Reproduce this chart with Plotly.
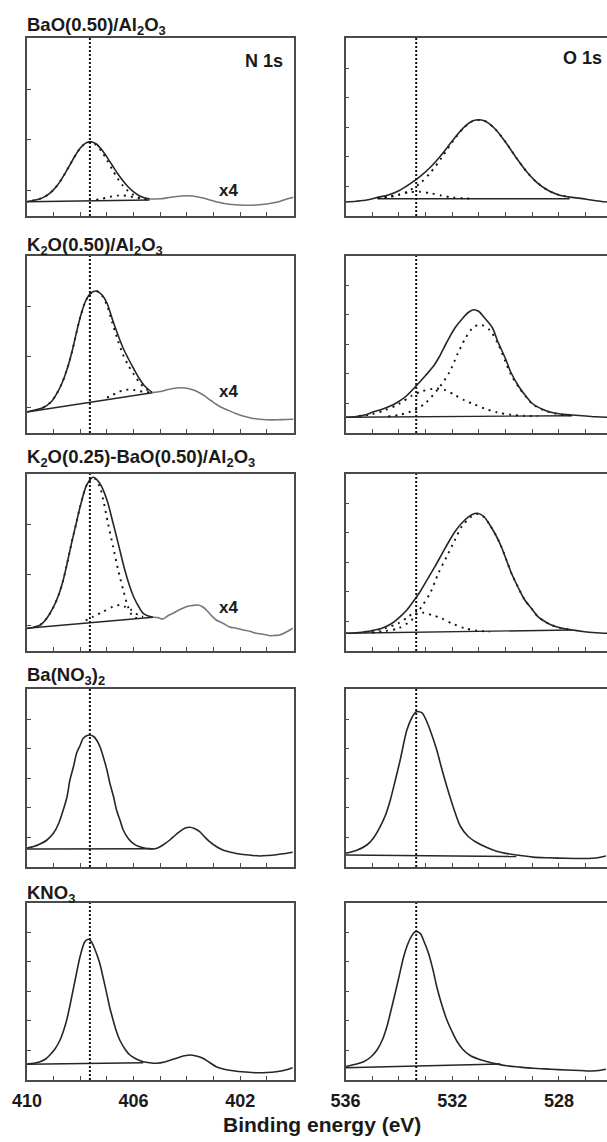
import plotly.graph_objects as go

# ---------------- data (binding energy in eV, intensity in arbitrary units) ----------------
REF_N1S = 407.64
REF_O1S = 533.35

# Row 1: BaO(0.50)/Al2O3
P1N_ENV_E = [410.0, 409.8, 409.6, 409.4, 409.2, 409.0, 408.8, 408.6, 408.4, 408.2, 408.0, 407.8, 407.6,
             407.4, 407.2, 407.0, 406.8, 406.6, 406.4, 406.2, 406.0, 405.8, 405.6, 405.4]
P1N_ENV_I = [14.4, 15.3, 16.5, 18.4, 21.6, 26.4, 32.9, 41.3, 50.7, 60.0, 67.9, 72.9, 74.1,
             72.0, 66.5, 58.9, 50.7, 42.5, 35.2, 29.0, 24.1, 20.5, 18.3, 17.1]
P1N_C1_E = [409.8, 409.6, 409.4, 409.2, 409.0, 408.8, 408.6, 408.4, 408.2, 408.0, 407.8, 407.6,
            407.4, 407.2, 407.0, 406.8, 406.6, 406.4, 406.2, 406.0, 405.8, 405.6, 405.4]
P1N_C1_I = [15.3, 16.5, 18.4, 21.6, 26.4, 32.9, 41.3, 50.7, 60.0, 67.9, 72.9, 74.1,
            71.0, 64.6, 55.9, 46.5, 37.6, 30.3, 24.8, 21.1, 18.6, 17.3, 16.7]
P1N_C2_E = [407.4, 407.2, 407.0, 406.8, 406.6, 406.4, 406.2, 406.0, 405.8, 405.6, 405.4]
P1N_C2_I = [16.2, 17.2, 18.4, 19.7, 20.4, 20.5, 19.9, 18.8, 17.7, 16.9, 16.4]
P1N_BG_E = [410.0, 405.4]
P1N_BG_I = [14.3, 16.0]
P1N_X4_E = [405.4, 405.0, 404.6, 404.2, 404.0, 403.8, 403.4, 403.0, 402.6, 402.2, 401.8, 401.4,
            401.0, 400.6, 400.3, 400.0]
P1N_X4_I = [17.0, 17.2, 18.8, 20.0, 20.3, 20.0, 18.0, 15.0, 12.5, 11.2, 10.8, 11.0,
            12.0, 14.0, 16.5, 18.7]

P1O_ENV_E = [536.0, 535.6, 535.2, 534.8, 534.4, 534.0, 533.6, 533.2, 532.8, 532.4, 532.0, 531.6, 531.2,
             530.8, 530.4, 530.0, 529.6, 529.2, 528.8, 528.4, 528.0, 527.6, 527.2, 526.8, 526.4, 526.2]
P1O_ENV_I = [14.0, 14.8, 16.0, 18.6, 20.9, 25.3, 31.9, 39.7, 49.3, 61.3, 75.0, 87.7, 95.4,
             95.3, 87.3, 73.8, 58.2, 43.9, 32.8, 25.5, 21.1, 18.9, 17.6, 16.0, 14.5, 14.0]
P1O_C1_E = [534.8, 534.4, 534.0, 533.6, 533.2, 532.8, 532.4, 532.0, 531.6, 531.2,
            530.8, 530.4, 530.0, 529.6, 529.2, 528.8, 528.4, 528.0, 527.6]
P1O_C1_I = [17.9, 18.9, 21.1, 25.5, 32.8, 43.9, 58.2, 73.8, 87.3, 95.3,
            95.3, 87.3, 73.8, 58.2, 43.9, 32.8, 25.5, 21.1, 18.9]
P1O_C2_E = [534.8, 534.4, 534.0, 533.6, 533.2, 532.8, 532.4, 532.0, 531.6, 531.2]
P1O_C2_I = [18.0, 19.3, 21.5, 23.7, 24.2, 22.7, 20.4, 18.5, 17.7, 17.4]
P1O_BG_E = [534.8, 527.6]
P1O_BG_I = [17.3, 17.3]

# Row 2: K2O(0.50)/Al2O3
P2N_ENV_E = [410.0, 409.7, 409.4, 409.1, 408.9, 408.7, 408.5, 408.3, 408.2, 408.0, 407.8, 407.6, 407.4,
             407.2, 407.0, 406.8, 406.6, 406.4, 406.2, 406.0, 405.8, 405.6, 405.4, 405.3]
P2N_ENV_I = [21.0, 23.0, 25.3, 31.0, 38.7, 49.0, 63.5, 82.5, 94.0, 116.0, 132.0, 140.0, 142.0,
             138.5, 130.0, 114.0, 99.0, 85.3, 74.5, 64.5, 55.0, 47.5, 42.5, 40.5]
P2N_C1_E = [409.4, 409.1, 408.9, 408.7, 408.5, 408.3, 408.2, 408.0, 407.8, 407.6, 407.4, 407.2,
            407.0, 406.8, 406.6, 406.4, 406.2, 406.0, 405.8, 405.6, 405.4]
P2N_C1_I = [25.3, 31.0, 38.7, 49.0, 63.5, 82.5, 94.0, 116.0, 132.0, 140.0, 142.0, 138.0,
            127.9, 110.2, 93.4, 78.5, 67.7, 58.9, 51.2, 45.4, 41.6]
P2N_C2_E = [407.0, 406.8, 406.6, 406.4, 406.2, 406.0, 405.8, 405.6, 405.4]
P2N_C2_I = [35.4, 37.9, 40.5, 42.6, 43.4, 43.0, 42.0, 41.1, 40.8]
P2N_BG_E = [410.0, 405.3]
P2N_BG_I = [21.0, 40.3]
P2N_X4_E = [405.3, 405.0, 404.7, 404.4, 404.2, 404.0, 403.7, 403.4, 403.1, 402.8, 402.5, 402.2,
            401.9, 401.6, 401.3, 401.0, 400.6, 400.3, 400.0]
P2N_X4_I = [40.3, 41.5, 43.5, 45.0, 45.3, 44.8, 42.5, 38.2, 32.5, 27.0, 23.3, 19.8,
            17.0, 15.0, 13.8, 13.2, 13.2, 13.5, 13.7]

P2O_ENV_E = [536.0, 535.6, 535.2, 535.0, 534.6, 534.2, 534.0, 533.7, 533.4, 533.0, 532.7, 532.5, 532.2,
             531.9, 531.6, 531.4, 531.2, 531.0, 530.8, 530.5, 530.3, 530.0, 529.8, 529.5, 529.2, 529.0,
             528.6, 528.3, 528.0, 527.5, 527.0, 526.6, 526.2]
P2O_ENV_I = [15.7, 16.5, 18.5, 20.7, 24.0, 28.5, 31.5, 37.5, 45.7, 57.5, 67.0, 75.5, 91.0,
             105.0, 115.0, 120.5, 123.3, 121.5, 115.5, 105.5, 92.0, 74.0, 60.5, 46.3, 35.5, 29.5,
             23.5, 20.7, 19.2, 18.0, 17.0, 16.2, 15.7]
P2O_C1_E = [534.4, 534.0, 533.4, 533.0, 532.5, 532.1, 531.8, 531.5, 531.2, 530.9, 530.6, 530.3,
            530.0, 529.8, 529.5, 529.2, 529.0, 528.6, 528.3, 528.0, 527.6]
P2O_C1_I = [16.5, 18.0, 23.0, 30.0, 45.0, 61.0, 79.0, 95.0, 106.0, 108.0, 103.0, 90.0,
            71.0, 58.5, 45.5, 35.0, 29.0, 23.0, 20.3, 18.8, 17.6]
P2O_C2_E = [535.5, 535.0, 534.5, 534.0, 533.5, 533.15, 532.65, 532.27, 531.9, 531.53, 531.2, 530.8,
            530.3, 529.8, 529.3, 528.8]
P2O_C2_I = [17.0, 19.0, 23.0, 29.0, 37.5, 41.5, 44.5, 43.0, 38.0, 32.5, 29.0, 24.5,
            20.5, 18.3, 17.2, 16.8]
P2O_BG_E = [536.0, 527.5]
P2O_BG_I = [15.7, 17.3]

# Row 3: K2O(0.25)-BaO(0.50)/Al2O3
P3N_ENV_E = [410.0, 409.8, 409.5, 409.25, 409.0, 408.8, 408.64, 408.5, 408.33, 408.15, 408.0, 407.76,
             407.52, 407.27, 407.0, 406.8, 406.64, 406.5, 406.33, 406.15, 406.0, 405.8, 405.64,
             405.45, 405.27]
P3N_ENV_I = [22.5, 23.5, 26.0, 33.0, 44.3, 57.0, 71.0, 87.0, 107.7, 128.0, 145.0, 166.0,
             173.7, 167.7, 151.0, 131.0, 114.3, 99.0, 81.0, 65.0, 54.3, 44.0, 37.7,
             35.0, 33.7]
P3N_C1_E = [409.5, 409.25, 409.0, 408.8, 408.64, 408.5, 408.33, 408.15, 408.0, 407.76, 407.52,
            407.27, 407.14, 406.96, 406.77, 406.58, 406.39, 406.21, 406.02, 405.8]
P3N_C1_I = [26.0, 33.0, 44.3, 57.0, 71.0, 87.0, 107.7, 128.0, 145.0, 166.0, 173.7,
            164.3, 151.0, 127.7, 104.3, 81.0, 61.0, 44.3, 34.3, 32.7]
P3N_C2_E = [407.8, 407.52, 407.14, 406.77, 406.52, 406.33, 406.08, 405.83, 405.64]
P3N_C2_I = [30.5, 34.3, 39.3, 44.3, 46.0, 44.3, 41.0, 36.0, 34.3]
P3N_BG_E = [410.0, 405.27]
P3N_BG_I = [22.7, 33.7]
P3N_X4_E = [405.27, 405.1, 404.9, 404.7, 404.52, 404.3, 404.02, 403.8, 403.58, 403.4, 403.27, 403.1,
            402.9, 402.65, 402.4, 402.15, 401.9, 401.65, 401.4, 401.15, 400.9, 400.7, 400.52,
            400.3, 400.03]
P3N_X4_I = [33.7, 33.5, 32.0, 35.5, 37.7, 41.0, 44.3, 45.5, 46.0, 44.0, 41.0, 36.0,
            31.0, 27.8, 24.0, 22.8, 21.0, 19.8, 17.7, 16.8, 15.3, 15.6, 16.0,
            18.5, 22.7]

P3O_ENV_E = [536.0, 535.6, 535.2, 534.9, 534.64, 534.3, 534.02, 533.7, 533.42, 533.2, 533.02, 532.65,
             532.27, 531.9, 531.53, 531.25, 531.05, 530.8, 530.59, 530.37, 530.16, 529.97, 529.78,
             529.5, 529.28, 529.0, 528.79, 528.5, 528.29, 528.0, 527.66, 527.04, 526.6, 526.2]
P3O_ENV_I = [17.7, 18.3, 19.5, 21.0, 22.7, 27.0, 32.7, 41.0, 51.0, 59.5, 67.7, 84.3,
             102.7, 119.3, 131.0, 136.5, 137.7, 134.0, 126.0, 116.0, 104.3, 91.0, 77.7,
             62.0, 51.0, 41.5, 34.3, 29.0, 26.0, 23.5, 21.7, 19.3, 18.3, 17.7]
P3O_C1_E = [535.0, 534.5, 534.02, 533.52, 533.15, 532.83, 532.52, 532.21, 531.9, 531.65, 531.3,
            531.05, 530.8, 530.59, 530.37, 530.16, 529.97, 529.78, 529.5, 529.28, 529.0, 528.79,
            528.5, 528.29, 528.0, 527.66]
P3O_C1_I = [18.5, 20.0, 22.7, 31.0, 44.3, 57.7, 77.7, 94.3, 111.0, 124.3, 134.0,
            137.0, 134.0, 126.0, 116.0, 104.3, 91.0, 77.7, 62.0, 51.0, 41.5, 34.3,
            29.0, 26.0, 23.5, 21.7]
P3O_C2_E = [535.3, 534.52, 534.02, 533.64, 533.39, 533.08, 532.77, 532.4, 532.03, 531.53, 531.05, 530.6]
P3O_C2_I = [19.0, 22.7, 27.7, 34.3, 39.3, 38.3, 36.0, 32.7, 27.7, 22.7, 20.3, 19.3]
P3O_BG_E = [536.0, 527.5]
P3O_BG_I = [17.7, 21.0]

# Row 4: Ba(NO3)2
P4N_ENV_E = [410.0, 409.75, 409.51, 409.25, 409.01, 408.82, 408.64, 408.5, 408.39, 408.25, 408.14,
             408.0, 407.89, 407.67, 407.5, 407.39, 407.25, 407.14, 407.0, 406.89, 406.75, 406.64,
             406.5, 406.39, 406.2, 406.02, 405.8, 405.64, 405.45, 405.27, 405.1, 404.9, 404.64,
             404.45, 404.27, 404.1, 403.9, 403.7, 403.52, 403.35, 403.15, 402.9, 402.65, 402.3,
             402.02, 401.6, 401.27, 400.95, 400.65, 400.3, 400.03]
P4N_ENV_I = [19.0, 20.5, 23.0, 27.0, 33.7, 43.0, 57.0, 70.0, 87.0, 101.0, 113.7,
             122.0, 128.7, 132.0, 130.5, 127.0, 119.5, 110.3, 97.0, 83.7, 70.0, 57.0,
             46.0, 37.0, 28.5, 23.7, 20.5, 19.3, 18.5, 18.0, 19.0, 22.0, 27.0,
             31.5, 35.3, 38.5, 39.7, 38.3, 35.3, 30.5, 25.3, 20.5, 17.0, 14.5,
             13.0, 11.8, 11.0, 11.5, 12.3, 13.5, 14.7]
P4N_BG_E = [410.0, 405.27]
P4N_BG_I = [18.0, 18.3]

P4O_ENV_E = [536.0, 535.6, 535.2, 534.95, 534.7, 534.5, 534.32, 534.15, 533.95, 533.7, 533.5, 533.35,
             533.14, 532.98, 532.83, 532.58, 532.4, 532.2, 531.95, 531.7, 531.4, 531.08, 530.7,
             530.34, 530.0, 529.6, 528.97, 528.4, 527.73, 527.2, 526.74, 526.5, 526.24]
P4O_ENV_I = [13.7, 16.5, 22.0, 29.0, 40.3, 52.0, 67.0, 85.0, 107.0, 137.0, 150.0, 155.3,
             154.3, 147.0, 137.0, 117.0, 99.0, 80.3, 59.0, 41.0, 30.5, 24.5, 19.5,
             15.8, 13.6, 12.0, 9.9, 9.2, 8.7, 8.5, 8.7, 9.5, 11.0]
P4O_BG_E = [536.0, 529.6]
P4O_BG_I = [12.0, 10.5]

# Row 5: KNO3
P5N_ENV_E = [410.0, 409.75, 409.51, 409.3, 409.14, 408.95, 408.76, 408.62, 408.51, 408.4, 408.27,
             408.14, 408.01, 407.83, 407.7, 407.6, 407.52, 407.4, 407.27, 407.14, 407.01, 406.9,
             406.77, 406.65, 406.52, 406.3, 406.14, 405.9, 405.64, 405.4, 405.14, 404.8, 404.52,
             404.2, 403.9, 403.65, 403.4, 403.15, 402.9, 402.6, 402.27, 401.8, 401.4, 401.0,
             400.65, 400.3, 400.03]
P5N_ENV_I = [16.0, 16.8, 18.3, 21.0, 25.0, 31.0, 40.0, 50.0, 60.0, 73.0, 90.0,
             107.0, 123.3, 138.3, 140.7, 139.0, 135.0, 127.0, 116.7, 102.0, 86.7, 73.0,
             60.0, 49.0, 40.0, 30.0, 25.0, 21.0, 18.3, 17.2, 16.7, 18.3, 20.7,
             23.5, 25.0, 24.0, 21.7, 17.5, 13.3, 10.8, 9.3, 8.0, 7.3, 7.5,
             8.3, 10.0, 12.3]
P5N_BG_E = [410.0, 405.64]
P5N_BG_I = [15.7, 17.3]

P5O_ENV_E = [536.0, 535.7, 535.32, 535.05, 534.82, 534.62, 534.45, 534.3, 534.14, 533.98, 533.82,
             533.7, 533.57, 533.39, 533.2, 533.05, 532.89, 532.72, 532.58, 532.4, 532.2, 532.0,
             531.83, 531.6, 531.33, 531.0, 530.71, 530.3, 529.96, 529.5, 528.97, 528.3, 527.73,
             527.2, 526.74, 526.5, 526.24]
P5O_ENV_I = [13.3, 15.3, 18.3, 23.0, 30.0, 40.0, 53.3, 69.0, 86.7, 105.0, 123.3,
             133.5, 141.7, 148.3, 146.7, 138.0, 126.7, 110.0, 93.3, 76.0, 60.0, 48.0,
             39.0, 30.5, 24.5, 20.8, 18.5, 15.9, 14.3, 13.0, 11.7, 10.8, 10.0,
             9.5, 9.0, 9.5, 10.7]
P5O_BG_E = [536.0, 530.2]
P5O_BG_I = [12.3, 16.0]

SAMPLES = ["BaO(0.50)/Al<sub>2</sub>O<sub>3</sub>",
           "K<sub>2</sub>O(0.50)/Al<sub>2</sub>O<sub>3</sub>",
           "K<sub>2</sub>O(0.25)-BaO(0.50)/Al<sub>2</sub>O<sub>3</sub>",
           "Ba(NO<sub>3</sub>)<sub>2</sub>",
           "KNO<sub>3</sub>"]
N1S_TICKS = [410, 406, 402]
O1S_TICKS = [536, 532, 528]

# ---------------- layout constants ----------------
W, H = 607, 1142
ROWS = [(38, 216), (256, 433), (474, 651), (689, 867), (903, 1080)]
COLS = [(27, 293.5), (345.5, 607)]
XRANGES = [[410, 400], [536, 526.2]]
TITLE_Y = [26, 246, 458, 676, 894]
FONT = "Liberation Sans, Arial, Helvetica, sans-serif"
LINE_C = "#262626"
FRAME_C = "#4a4a4a"

panels = [
    dict(env=(P1N_ENV_E, P1N_ENV_I), bg=(P1N_BG_E, P1N_BG_I), comps=[(P1N_C1_E, P1N_C1_I), (P1N_C2_E, P1N_C2_I)], x4=(P1N_X4_E, P1N_X4_I)),
    dict(env=(P1O_ENV_E, P1O_ENV_I), bg=(P1O_BG_E, P1O_BG_I), comps=[(P1O_C1_E, P1O_C1_I), (P1O_C2_E, P1O_C2_I)], x4=None),
    dict(env=(P2N_ENV_E, P2N_ENV_I), bg=(P2N_BG_E, P2N_BG_I), comps=[(P2N_C1_E, P2N_C1_I), (P2N_C2_E, P2N_C2_I)], x4=(P2N_X4_E, P2N_X4_I)),
    dict(env=(P2O_ENV_E, P2O_ENV_I), bg=(P2O_BG_E, P2O_BG_I), comps=[(P2O_C1_E, P2O_C1_I), (P2O_C2_E, P2O_C2_I)], x4=None),
    dict(env=(P3N_ENV_E, P3N_ENV_I), bg=(P3N_BG_E, P3N_BG_I), comps=[(P3N_C1_E, P3N_C1_I), (P3N_C2_E, P3N_C2_I)], x4=(P3N_X4_E, P3N_X4_I)),
    dict(env=(P3O_ENV_E, P3O_ENV_I), bg=(P3O_BG_E, P3O_BG_I), comps=[(P3O_C1_E, P3O_C1_I), (P3O_C2_E, P3O_C2_I)], x4=None),
    dict(env=(P4N_ENV_E, P4N_ENV_I), bg=(P4N_BG_E, P4N_BG_I), comps=[], x4=None),
    dict(env=(P4O_ENV_E, P4O_ENV_I), bg=(P4O_BG_E, P4O_BG_I), comps=[], x4=None),
    dict(env=(P5N_ENV_E, P5N_ENV_I), bg=(P5N_BG_E, P5N_BG_I), comps=[], x4=None),
    dict(env=(P5O_ENV_E, P5O_ENV_I), bg=(P5O_BG_E, P5O_BG_I), comps=[], x4=None),
]

fig = go.Figure()
layout = dict(width=W, height=H, margin=dict(l=0, r=0, t=0, b=0, autoexpand=False),
              paper_bgcolor="white", plot_bgcolor="white", showlegend=False)
shapes = []
annotations = []

for k, p in enumerate(panels):
    row, col = divmod(k, 2)
    n = k + 1
    sfx = "" if n == 1 else str(n)
    xa, ya = "x" + sfx, "y" + sfx
    top, bot = ROWS[row]
    left, right = COLS[col]
    spline = dict(shape="spline", smoothing=0.8)

    fig.add_trace(go.Scatter(x=p["bg"][0], y=p["bg"][1], mode="lines",
                             line=dict(color=LINE_C, width=1.4), xaxis=xa, yaxis=ya, hoverinfo="skip"))
    if p["x4"] is not None:
        fig.add_trace(go.Scatter(x=p["x4"][0], y=p["x4"][1], mode="lines",
                                 line=dict(color="#777777", width=1.6, **spline), xaxis=xa, yaxis=ya))
    for ce, ci in p["comps"]:
        fig.add_trace(go.Scatter(x=ce, y=ci, mode="lines",
                                 line=dict(color="#111111", width=1.9, dash="2px,5px", **spline),
                                 xaxis=xa, yaxis=ya))
    fig.add_trace(go.Scatter(x=p["env"][0], y=p["env"][1], mode="lines",
                             line=dict(color=LINE_C, width=1.6, **spline), xaxis=xa, yaxis=ya))

    ref = REF_N1S if col == 0 else REF_O1S
    shapes.append(dict(type="line", xref=xa, yref=ya + " domain", x0=ref, x1=ref, y0=0, y1=1,
                       line=dict(color="#111111", width=2, dash="2px,2px")))

    tickfont = dict(family=FONT, size=18, color="#1a1a1a", weight="bold")
    layout["xaxis" + sfx] = dict(
        domain=[left / W, right / W], range=XRANGES[col], anchor=ya, automargin=False,
        showline=True, linecolor=FRAME_C, linewidth=1.6, mirror=True,
        ticks="inside", ticklen=4, tickwidth=1.2, tickcolor=FRAME_C,
        tickmode="array", tickvals=N1S_TICKS if col == 0 else O1S_TICKS,
        minor=dict(ticks="inside", ticklen=4, tickwidth=1.2, tickcolor=FRAME_C, dtick=1,
                   tick0=XRANGES[col][0], showgrid=False),
        showgrid=False, zeroline=False, showticklabels=(row == 4),
        tickfont=tickfont, ticklabelstandoff=4)
    yvals = [25.7, 76.2, 126.7] if (row < 3 and col == 0) else [30, 59.5, 89, 118.5, 148]
    layout["yaxis" + sfx] = dict(
        domain=[1 - bot / H, 1 - top / H], range=[0, bot - top], anchor=xa, automargin=False,
        showline=True, linecolor=FRAME_C, linewidth=1.6, mirror=(col == 0),
        ticks="inside", ticklen=4, tickwidth=1.2, tickcolor=FRAME_C,
        tickmode="array", tickvals=yvals, showticklabels=False,
        showgrid=False, zeroline=False)

def ann(text, px, py, size, xanchor="center", yanchor="middle"):
    annotations.append(dict(text=text, x=px / W, y=1 - py / H, xref="paper", yref="paper",
                            xanchor=xanchor, yanchor=yanchor, showarrow=False,
                            font=dict(family=FONT, size=size, color="#1a1a1a", weight="bold")))

for r, name in enumerate(SAMPLES):
    ann(name, 25, TITLE_Y[r], 18.5, xanchor="left")
ann("N 1s", 264, 61, 18)
ann("O 1s", 582, 58, 18)
for yy in (191, 391, 607.5):
    ann("x4", 228, yy, 17)
ann("Binding energy (eV)", 322, 1124, 21)

layout["shapes"] = shapes
layout["annotations"] = annotations
fig.update_layout(**layout)
fig.write_html("out.html")
